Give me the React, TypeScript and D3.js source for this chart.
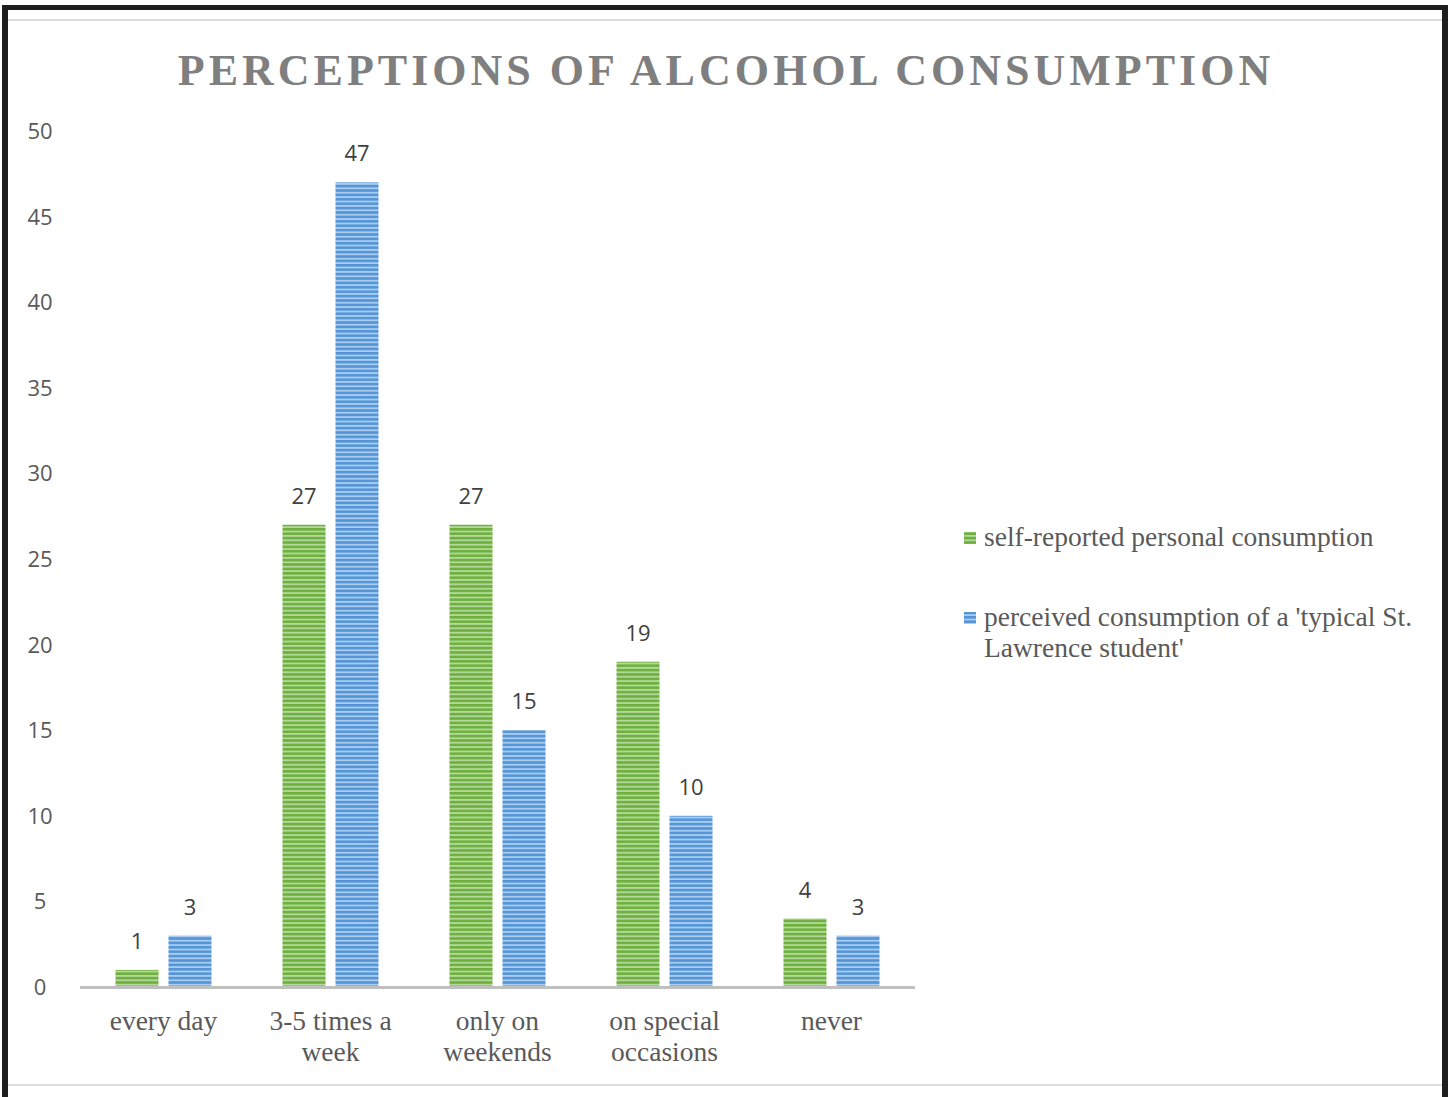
import React from "react";
import * as d3 from "d3";

const categories = ["every day", "3-5 times a week", "only on weekends", "on special occasions", "never"];
const categoryLines = [["every day"], ["3-5 times a", "week"], ["only on", "weekends"], ["on special", "occasions"], ["never"]];
const selfReported = [1, 27, 27, 19, 4];
const perceived = [3, 47, 15, 10, 3];
const seriesNames = ["self-reported personal consumption", "perceived consumption of a 'typical St. Lawrence student'"];
const yTicks = [0, 5, 10, 15, 20, 25, 30, 35, 40, 45, 50];

export default function App() {
  const W = 1448, H = 1097;
  const x0 = 80, x1 = 915, yTop = 131, yBot = 987;
  const x = d3.scaleBand<string>().domain(categories).range([x0, x1]);
  const y = d3.scaleLinear().domain([0, 50]).range([yBot, yTop]);
  const barW = 43, gap = 10;
  const series = [
    { name: seriesNames[0], values: selfReported, fill: "url(#pg)", sw: "#70ad47" },
    { name: seriesNames[1], values: perceived, fill: "url(#pb)", sw: "#5b9bd5" },
  ];
  const sans = "'Open Sans', 'DejaVu Sans', sans-serif";
  const serif = "'Liberation Serif', 'Times New Roman', serif";
  return (
    <svg width={W} height={H} style={{ position: "absolute", left: 0, top: 0, background: "#fff" }}>
      <defs>
        <pattern id="pg" width="10" height="4.4" patternUnits="userSpaceOnUse">
          <rect width="10" height="4.4" fill="#b3d99a" />
          <rect width="10" height="2.6" fill="#6fb03f" />
        </pattern>
        <pattern id="pb" width="10" height="4.4" patternUnits="userSpaceOnUse">
          <rect width="10" height="4.4" fill="#a8cdf0" />
          <rect width="10" height="2.6" fill="#5595d6" />
        </pattern>
      </defs>
      <rect x={0} y={0} width={W} height={H} fill="#fff" />
      {/* frame */}
      <rect x={2} y={5} width={1444} height={5} fill="#1e1e1e" />
      <rect x={2} y={5} width={6} height={H - 5} fill="#1e1e1e" />
      <rect x={1442} y={5} width={6} height={H - 5} fill="#1e1e1e" />
      <rect x={8} y={19} width={1434} height={2} fill="#dcdcdc" />
      <rect x={8} y={1084} width={1434} height={2} fill="#dcdcdc" />

      <text x={726} y={85} textAnchor="middle" fontFamily={serif} fontWeight="bold" fontSize={44}
        fill="#7f7f7f" letterSpacing={4}>PERCEPTIONS OF ALCOHOL CONSUMPTION</text>

      {yTicks.map((t) => (
        <text key={t} x={40} y={y(t) + 8} textAnchor="middle" fontFamily={sans} fontSize={22} fill="#595959">{t}</text>
      ))}

      {categories.map((c, i) => {
        const cx = (x(c) as number) + x.bandwidth() / 2;
        return (
          <g key={c}>
            {series.map((s, j) => {
              const bx = j === 0 ? cx - gap / 2 - barW : cx + gap / 2;
              const v = s.values[i];
              return (
                <g key={j}>
                  <rect x={bx} y={y(v)} width={barW} height={yBot - y(v)} fill={s.fill} />
                  <text x={bx + barW / 2} y={y(v) - 21} textAnchor="middle" fontFamily={sans} fontSize={22} fill="#404040">{v}</text>
                </g>
              );
            })}
            {categoryLines[i].map((ln, k) => (
              <text key={k} x={cx} y={1030 + k * 31} textAnchor="middle" fontFamily={serif} fontSize={27.5} fill="#595959">{ln}</text>
            ))}
          </g>
        );
      })}
      <rect x={x0} y={yBot - 1} width={x1 - x0} height={3} fill="#bfbfbf" />

      {/* legend */}
      <rect x={964} y={532} width={12} height={12} fill="url(#pg)" />
      <text x={984} y={546} fontFamily={serif} fontSize={27.5} fill="#595959">{seriesNames[0]}</text>
      <rect x={964} y={612} width={12} height={12} fill="url(#pb)" />
      <text x={984} y={626} fontFamily={serif} fontSize={27.5} fill="#595959">perceived consumption of a 'typical St.</text>
      <text x={984} y={657} fontFamily={serif} fontSize={27.5} fill="#595959">Lawrence student'</text>
    </svg>
  );
}
